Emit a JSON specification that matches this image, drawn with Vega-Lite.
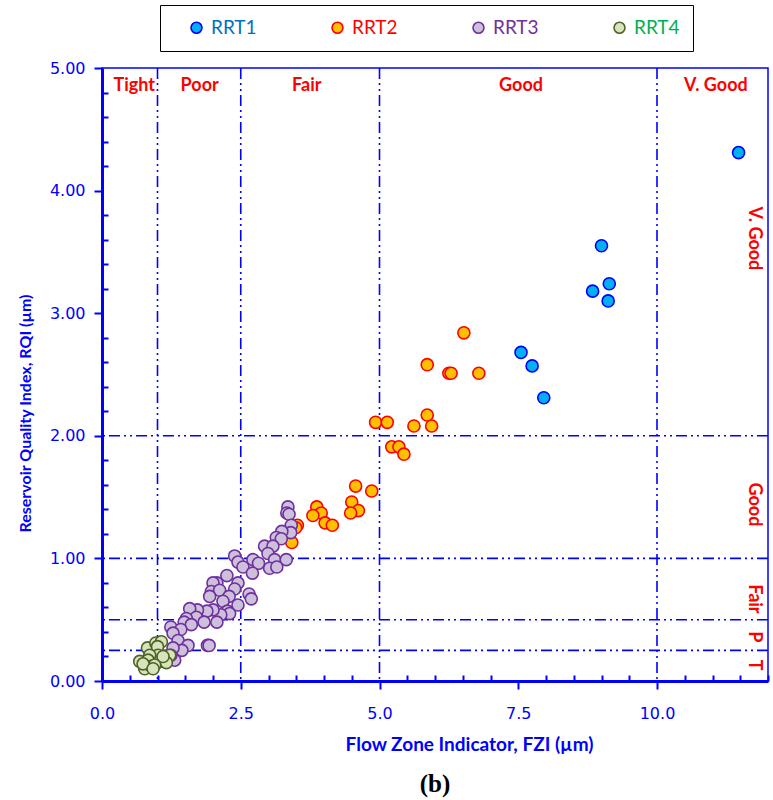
{
  "$schema": "https://vega.github.io/schema/vega-lite/v6.json",
  "autosize": "none",
  "width": 666,
  "height": 613,
  "padding": {"left": 102, "top": 68, "right": 5, "bottom": 119},
  "background": "white",
  "config": {
    "view": {"stroke": "#0000FF", "strokeWidth": 1.5},
    "axis": {"grid": false}
  },
  "title": {"text": "(b)", "orient": "bottom", "font": "Liberation Serif", "fontSize": 25, "fontWeight": "bold", "color": "#000000", "offset": 18, "anchor": "middle"},
  "resolve": {"axis": {"x": "independent", "y": "independent"}},
  "datasets": {
    "pts": [
      {"series": "RRT1", "fzi": 11.47, "rqi": 4.31},
      {"series": "RRT1", "fzi": 9.00, "rqi": 3.55},
      {"series": "RRT1", "fzi": 9.14, "rqi": 3.24},
      {"series": "RRT1", "fzi": 8.84, "rqi": 3.18},
      {"series": "RRT1", "fzi": 9.12, "rqi": 3.10},
      {"series": "RRT1", "fzi": 7.55, "rqi": 2.68},
      {"series": "RRT1", "fzi": 7.75, "rqi": 2.57},
      {"series": "RRT1", "fzi": 7.96, "rqi": 2.31},
      {"series": "RRT2", "fzi": 6.52, "rqi": 2.84},
      {"series": "RRT2", "fzi": 5.86, "rqi": 2.58},
      {"series": "RRT2", "fzi": 6.25, "rqi": 2.51},
      {"series": "RRT2", "fzi": 6.29, "rqi": 2.51},
      {"series": "RRT2", "fzi": 6.79, "rqi": 2.51},
      {"series": "RRT2", "fzi": 4.93, "rqi": 2.11},
      {"series": "RRT2", "fzi": 5.14, "rqi": 2.11},
      {"series": "RRT2", "fzi": 5.62, "rqi": 2.08},
      {"series": "RRT2", "fzi": 5.86, "rqi": 2.17},
      {"series": "RRT2", "fzi": 5.94, "rqi": 2.08},
      {"series": "RRT2", "fzi": 5.22, "rqi": 1.91},
      {"series": "RRT2", "fzi": 5.35, "rqi": 1.91},
      {"series": "RRT2", "fzi": 5.44, "rqi": 1.85},
      {"series": "RRT2", "fzi": 4.57, "rqi": 1.59},
      {"series": "RRT2", "fzi": 4.86, "rqi": 1.55},
      {"series": "RRT2", "fzi": 4.50, "rqi": 1.46},
      {"series": "RRT2", "fzi": 4.62, "rqi": 1.39},
      {"series": "RRT2", "fzi": 4.48, "rqi": 1.37},
      {"series": "RRT2", "fzi": 3.87, "rqi": 1.42},
      {"series": "RRT2", "fzi": 3.95, "rqi": 1.37},
      {"series": "RRT2", "fzi": 3.80, "rqi": 1.35},
      {"series": "RRT2", "fzi": 4.02, "rqi": 1.29},
      {"series": "RRT2", "fzi": 4.15, "rqi": 1.27},
      {"series": "RRT2", "fzi": 3.52, "rqi": 1.27},
      {"series": "RRT2", "fzi": 3.49, "rqi": 1.25},
      {"series": "RRT2", "fzi": 3.42, "rqi": 1.13},
      {"series": "RRT3", "fzi": 3.35, "rqi": 1.42},
      {"series": "RRT3", "fzi": 3.33, "rqi": 1.37},
      {"series": "RRT3", "fzi": 3.37, "rqi": 1.36},
      {"series": "RRT3", "fzi": 3.41, "rqi": 1.27},
      {"series": "RRT3", "fzi": 3.40, "rqi": 1.21},
      {"series": "RRT3", "fzi": 3.24, "rqi": 1.22},
      {"series": "RRT3", "fzi": 3.14, "rqi": 1.17},
      {"series": "RRT3", "fzi": 3.23, "rqi": 1.16},
      {"series": "RRT3", "fzi": 2.93, "rqi": 1.10},
      {"series": "RRT3", "fzi": 3.08, "rqi": 1.10},
      {"series": "RRT3", "fzi": 2.99, "rqi": 1.04},
      {"series": "RRT3", "fzi": 3.11, "rqi": 0.99},
      {"series": "RRT3", "fzi": 3.32, "rqi": 0.99},
      {"series": "RRT3", "fzi": 3.02, "rqi": 0.92},
      {"series": "RRT3", "fzi": 3.15, "rqi": 0.93},
      {"series": "RRT3", "fzi": 2.39, "rqi": 1.02},
      {"series": "RRT3", "fzi": 2.45, "rqi": 0.97},
      {"series": "RRT3", "fzi": 2.54, "rqi": 0.93},
      {"series": "RRT3", "fzi": 2.72, "rqi": 0.99},
      {"series": "RRT3", "fzi": 2.82, "rqi": 0.96},
      {"series": "RRT3", "fzi": 2.71, "rqi": 0.88},
      {"series": "RRT3", "fzi": 2.25, "rqi": 0.86},
      {"series": "RRT3", "fzi": 2.45, "rqi": 0.80},
      {"series": "RRT3", "fzi": 2.39, "rqi": 0.75},
      {"series": "RRT3", "fzi": 2.07, "rqi": 0.80},
      {"series": "RRT3", "fzi": 2.00, "rqi": 0.80},
      {"series": "RRT3", "fzi": 1.97, "rqi": 0.73},
      {"series": "RRT3", "fzi": 2.12, "rqi": 0.74},
      {"series": "RRT3", "fzi": 1.94, "rqi": 0.69},
      {"series": "RRT3", "fzi": 2.29, "rqi": 0.69},
      {"series": "RRT3", "fzi": 2.18, "rqi": 0.65},
      {"series": "RRT3", "fzi": 2.65, "rqi": 0.71},
      {"series": "RRT3", "fzi": 2.69, "rqi": 0.67},
      {"series": "RRT3", "fzi": 2.45, "rqi": 0.62},
      {"series": "RRT3", "fzi": 2.26, "rqi": 0.57},
      {"series": "RRT3", "fzi": 2.30, "rqi": 0.55},
      {"series": "RRT3", "fzi": 2.14, "rqi": 0.54},
      {"series": "RRT3", "fzi": 2.00, "rqi": 0.58},
      {"series": "RRT3", "fzi": 1.89, "rqi": 0.57},
      {"series": "RRT3", "fzi": 1.72, "rqi": 0.58},
      {"series": "RRT3", "fzi": 1.58, "rqi": 0.59},
      {"series": "RRT3", "fzi": 1.70, "rqi": 0.52},
      {"series": "RRT3", "fzi": 1.52, "rqi": 0.51},
      {"series": "RRT3", "fzi": 1.48, "rqi": 0.48},
      {"series": "RRT3", "fzi": 1.61, "rqi": 0.46},
      {"series": "RRT3", "fzi": 1.84, "rqi": 0.48},
      {"series": "RRT3", "fzi": 2.07, "rqi": 0.48},
      {"series": "RRT3", "fzi": 1.24, "rqi": 0.44},
      {"series": "RRT3", "fzi": 1.42, "rqi": 0.42},
      {"series": "RRT3", "fzi": 1.28, "rqi": 0.39},
      {"series": "RRT3", "fzi": 1.37, "rqi": 0.33},
      {"series": "RRT3", "fzi": 1.55, "rqi": 0.29},
      {"series": "RRT3", "fzi": 1.44, "rqi": 0.25},
      {"series": "RRT3", "fzi": 1.90, "rqi": 0.29},
      {"series": "RRT3", "fzi": 1.93, "rqi": 0.29},
      {"series": "RRT3", "fzi": 1.28, "rqi": 0.27},
      {"series": "RRT3", "fzi": 1.31, "rqi": 0.17},
      {"series": "RRT3", "fzi": 1.24, "rqi": 0.21},
      {"series": "RRT4", "fzi": 0.82, "rqi": 0.27},
      {"series": "RRT4", "fzi": 0.97, "rqi": 0.31},
      {"series": "RRT4", "fzi": 1.07, "rqi": 0.32},
      {"series": "RRT4", "fzi": 1.00, "rqi": 0.28},
      {"series": "RRT4", "fzi": 1.01, "rqi": 0.21},
      {"series": "RRT4", "fzi": 0.86, "rqi": 0.21},
      {"series": "RRT4", "fzi": 1.22, "rqi": 0.21},
      {"series": "RRT4", "fzi": 0.68, "rqi": 0.16},
      {"series": "RRT4", "fzi": 0.83, "rqi": 0.17},
      {"series": "RRT4", "fzi": 1.04, "rqi": 0.16},
      {"series": "RRT4", "fzi": 1.16, "rqi": 0.15},
      {"series": "RRT4", "fzi": 0.77, "rqi": 0.10},
      {"series": "RRT4", "fzi": 0.89, "rqi": 0.12},
      {"series": "RRT4", "fzi": 0.95, "rqi": 0.13},
      {"series": "RRT4", "fzi": 0.74, "rqi": 0.14},
      {"series": "RRT4", "fzi": 0.92, "rqi": 0.10},
      {"series": "RRT4", "fzi": 1.10, "rqi": 0.20}
    ],
    "vlines": [{"fzi": 1.0}, {"fzi": 2.5}, {"fzi": 5.0}, {"fzi": 10.0}],
    "hlines": [{"rqi": 0.25}, {"rqi": 0.5}, {"rqi": 1.0}, {"rqi": 2.0}],
    "toplabels": [
      {"label": "Tight", "fzi": 0.58, "rqi": 4.85},
      {"label": "Poor", "fzi": 1.76, "rqi": 4.85},
      {"label": "Fair", "fzi": 3.69, "rqi": 4.85},
      {"label": "Good", "fzi": 7.55, "rqi": 4.85},
      {"label": "V. Good", "fzi": 11.06, "rqi": 4.85}
    ],
    "sidelabels": [
      {"label": "V. Good", "fzi": 11.74, "rqi": 3.61},
      {"label": "Good", "fzi": 11.74, "rqi": 1.44},
      {"label": "Fair", "fzi": 11.74, "rqi": 0.67},
      {"label": "P", "fzi": 11.74, "rqi": 0.36},
      {"label": "T", "fzi": 11.74, "rqi": 0.13}
    ]
  },
  "layer": [
    {
      "data": {"name": "vlines"},
      "mark": {"type": "rule", "color": "#0000FF", "strokeWidth": 1.6, "strokeDash": [11, 4, 2, 4, 2, 4]},
      "encoding": {
        "x": {
          "field": "fzi", "type": "quantitative",
          "scale": {"domain": [0, 12], "nice": false, "zero": false},
          "axis": {
            "orient": "bottom", "offset": 0, "title": null, "labels": false, "domain": false,
            "values": [0.5, 1, 1.5, 2, 3, 3.5, 4, 4.5, 5.5, 6, 6.5, 7, 8, 8.5, 9, 9.5, 10.5, 11, 11.5, 12],
            "tickSize": -6, "tickColor": "#0000FF", "tickWidth": 2
          }
        }
      }
    },
    {
      "data": {"name": "hlines"},
      "mark": {"type": "rule", "color": "#0000FF", "strokeWidth": 1.6, "strokeDash": [11, 4, 2, 4, 2, 4]},
      "encoding": {
        "y": {
          "field": "rqi", "type": "quantitative",
          "scale": {"domain": [0, 5], "nice": false},
          "axis": {
            "orient": "left", "offset": 0, "title": null, "labels": false, "domain": false,
            "values": [0.2, 0.4, 0.6, 0.8, 1.2, 1.4, 1.6, 1.8, 2.2, 2.4, 2.6, 2.8, 3.2, 3.4, 3.6, 3.8, 4.2, 4.4, 4.6, 4.8],
            "tickSize": -6, "tickColor": "#0000FF", "tickWidth": 2
          }
        }
      }
    },
    {
      "data": {"name": "pts"},
      "mark": {"type": "point", "shape": "circle", "filled": false, "size": 145, "strokeWidth": 1.6, "opacity": 1, "fillOpacity": 1},
      "encoding": {
        "x": {
          "field": "fzi", "type": "quantitative",
          "scale": {"domain": [0, 12], "nice": false, "zero": false},
          "axis": {
            "orient": "bottom", "offset": 0,
            "title": "Flow Zone Indicator, FZI (µm)",
            "values": [0, 2.5, 5, 7.5, 10],
            "format": ".1f",
            "tickSize": 8, "tickColor": "#0000FF", "tickWidth": 2,
            "domainColor": "#0000FF", "domainWidth": 3,
            "labelColor": "#0000FF", "labelFont": "DejaVu Sans", "labelFontSize": 16, "labelPadding": 16,
            "labelOverlap": false, "labelFlush": false,
            "titleColor": "#0000FF", "titleFont": "Lato", "titleFontSize": 19, "titleFontWeight": "bold", "titlePadding": 14,
            "titleX": 367
          }
        },
        "y": {
          "field": "rqi", "type": "quantitative",
          "scale": {"domain": [0, 5], "nice": false},
          "axis": {
            "orient": "left", "offset": 0,
            "title": "Reservoir Quality Index, RQI (µm)",
            "values": [0, 1, 2, 3, 4, 5],
            "format": ".2f",
            "tickSize": 8, "tickColor": "#0000FF", "tickWidth": 2,
            "domainColor": "#0000FF", "domainWidth": 3,
            "labelColor": "#0000FF", "labelFont": "DejaVu Sans", "labelFontSize": 16, "labelPadding": 9,
            "labelOverlap": false, "labelFlush": false,
            "titleColor": "#0000FF", "titleFont": "Lato", "titleFontSize": 16, "titleFontWeight": "bold", "titlePadding": 16,
            "titleY": 345
          }
        },
        "fill": {
          "field": "series", "type": "nominal",
          "scale": {"domain": ["RRT1", "RRT2", "RRT3", "RRT4"], "range": ["#00B0F0", "#FFC000", "#CCC0DA", "#D8E4BC"]},
          "legend": {
            "title": null, "orient": "none", "legendX": 58, "legendY": -63,
            "direction": "horizontal", "columns": 4, "columnPadding": 57,
            "padding": 13, "symbolOffset": 14,
            "strokeColor": "#000000", "fillColor": "white",
            "symbolType": "circle", "symbolSize": 120, "symbolStrokeWidth": 1.6,
            "labelFont": "Lato", "labelFontSize": 19, "labelOffset": 5,
            "labelColor": {"expr": "datum.label == 'RRT1' ? '#0070C0' : datum.label == 'RRT2' ? '#FF0000' : datum.label == 'RRT3' ? '#7030A0' : '#00B050'"}
          }
        },
        "stroke": {
          "field": "series", "type": "nominal",
          "scale": {"domain": ["RRT1", "RRT2", "RRT3", "RRT4"], "range": ["#0000FF", "#FF0000", "#7030A0", "#4F6228"]}
        }
      }
    },
    {
      "data": {"name": "toplabels"},
      "mark": {"type": "text", "font": "Lato", "fontSize": 18, "fontWeight": "bold", "color": "#FF0000", "align": "center", "baseline": "middle"},
      "encoding": {
        "x": {"field": "fzi", "type": "quantitative", "axis": null},
        "y": {"field": "rqi", "type": "quantitative", "axis": null},
        "text": {"field": "label"}
      }
    },
    {
      "data": {"name": "sidelabels"},
      "mark": {"type": "text", "font": "Lato", "fontSize": 18, "fontWeight": "bold", "color": "#FF0000", "align": "center", "baseline": "middle", "angle": 90},
      "encoding": {
        "x": {"field": "fzi", "type": "quantitative", "axis": null},
        "y": {"field": "rqi", "type": "quantitative", "axis": null},
        "text": {"field": "label"}
      }
    }
  ]
}
